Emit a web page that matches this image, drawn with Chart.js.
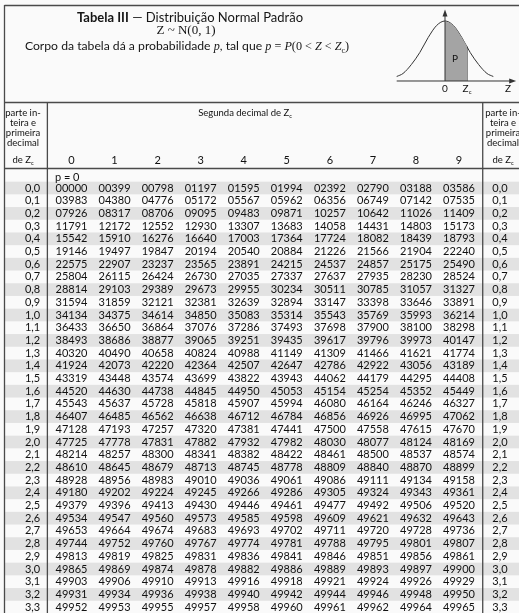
<!DOCTYPE html>
<html>
<head>
<meta charset="utf-8">
<script src="https://cdn.jsdelivr.net/npm/chart.js@4.4.1/dist/chart.umd.min.js"></script>
<style>
  html, body { margin: 0; padding: 0; background: #fafafa; }
  #wrap { position: relative; width: 519px; height: 613px; overflow: hidden; }
  #tableBox { position: absolute; left: 0; top: 0; width: 519px; height: 613px; }
  #curveBox { position: absolute; left: 390px; top: 0; width: 129px; height: 100px; }
  .t { position: absolute; white-space: nowrap; color: #151515; font-family: Lato, sans-serif; line-height: 14px; transform: translateX(-50%); }
  .serif { font-family: 'Liberation Serif', serif; }
  sub { font-size: 65%; line-height: 0; }
</style>
</head>
<body>
<div id="wrap">
  <div id="tableBox"><canvas id="tableChart"></canvas></div>
  <div id="curveBox"><canvas id="curveChart"></canvas></div>
  <div class="t" style="left:190px;top:10px;font-size:13px"><b>Tabela III</b> — Distribuição Normal Padrão</div>
  <div class="t serif" style="left:186px;top:23px;font-size:13px">Z ~ N(0, 1)</div>
  <div class="t" style="left:187px;top:39px;font-size:12.2px">Corpo da tabela dá a probabilidade <i class="serif">p</i>, tal que <i class="serif">p</i> <span class="serif">= <i>P</i>(0 &lt; <i>Z</i> &lt; <i>Z</i><sub>c</sub>)</span></div>
</div>
<script>
// second decimal of Z (columns) and Z up to the first decimal (rows)
const colLabels = ['0', '1', '2', '3', '4', '5', '6', '7', '8', '9'];
const rowLabels = ['0,0', '0,1', '0,2', '0,3', '0,4', '0,5', '0,6', '0,7', '0,8', '0,9',
  '1,0', '1,1', '1,2', '1,3', '1,4', '1,5', '1,6', '1,7', '1,8', '1,9',
  '2,0', '2,1', '2,2', '2,3', '2,4', '2,5', '2,6', '2,7', '2,8', '2,9',
  '3,0', '3,1', '3,2', '3,3'];

// P(0 < Z < Zc) x 100000, grouped by integer part of Z
const probs0 = [
  [0, 399, 798, 1197, 1595, 1994, 2392, 2790, 3188, 3586],
  [3983, 4380, 4776, 5172, 5567, 5962, 6356, 6749, 7142, 7535],
  [7926, 8317, 8706, 9095, 9483, 9871, 10257, 10642, 11026, 11409],
  [11791, 12172, 12552, 12930, 13307, 13683, 14058, 14431, 14803, 15173],
  [15542, 15910, 16276, 16640, 17003, 17364, 17724, 18082, 18439, 18793],
  [19146, 19497, 19847, 20194, 20540, 20884, 21226, 21566, 21904, 22240],
  [22575, 22907, 23237, 23565, 23891, 24215, 24537, 24857, 25175, 25490],
  [25804, 26115, 26424, 26730, 27035, 27337, 27637, 27935, 28230, 28524],
  [28814, 29103, 29389, 29673, 29955, 30234, 30511, 30785, 31057, 31327],
  [31594, 31859, 32121, 32381, 32639, 32894, 33147, 33398, 33646, 33891]
];
const probs1 = [
  [34134, 34375, 34614, 34850, 35083, 35314, 35543, 35769, 35993, 36214],
  [36433, 36650, 36864, 37076, 37286, 37493, 37698, 37900, 38100, 38298],
  [38493, 38686, 38877, 39065, 39251, 39435, 39617, 39796, 39973, 40147],
  [40320, 40490, 40658, 40824, 40988, 41149, 41309, 41466, 41621, 41774],
  [41924, 42073, 42220, 42364, 42507, 42647, 42786, 42922, 43056, 43189],
  [43319, 43448, 43574, 43699, 43822, 43943, 44062, 44179, 44295, 44408],
  [44520, 44630, 44738, 44845, 44950, 45053, 45154, 45254, 45352, 45449],
  [45543, 45637, 45728, 45818, 45907, 45994, 46080, 46164, 46246, 46327],
  [46407, 46485, 46562, 46638, 46712, 46784, 46856, 46926, 46995, 47062],
  [47128, 47193, 47257, 47320, 47381, 47441, 47500, 47558, 47615, 47670]
];
const probs2 = [
  [47725, 47778, 47831, 47882, 47932, 47982, 48030, 48077, 48124, 48169],
  [48214, 48257, 48300, 48341, 48382, 48422, 48461, 48500, 48537, 48574],
  [48610, 48645, 48679, 48713, 48745, 48778, 48809, 48840, 48870, 48899],
  [48928, 48956, 48983, 49010, 49036, 49061, 49086, 49111, 49134, 49158],
  [49180, 49202, 49224, 49245, 49266, 49286, 49305, 49324, 49343, 49361],
  [49379, 49396, 49413, 49430, 49446, 49461, 49477, 49492, 49506, 49520],
  [49534, 49547, 49560, 49573, 49585, 49598, 49609, 49621, 49632, 49643],
  [49653, 49664, 49674, 49683, 49693, 49702, 49711, 49720, 49728, 49736],
  [49744, 49752, 49760, 49767, 49774, 49781, 49788, 49795, 49801, 49807],
  [49813, 49819, 49825, 49831, 49836, 49841, 49846, 49851, 49856, 49861]
];
const probs3 = [
  [49865, 49869, 49874, 49878, 49882, 49886, 49889, 49893, 49897, 49900],
  [49903, 49906, 49910, 49913, 49916, 49918, 49921, 49924, 49926, 49929],
  [49931, 49934, 49936, 49938, 49940, 49942, 49944, 49946, 49948, 49950],
  [49952, 49953, 49955, 49957, 49958, 49960, 49961, 49962, 49964, 49965]
];

// little density sketch in the corner
const curveZ = [-2.3, -2.0, -1.6, -1.2, -0.8, -0.4, 0, 0.4, 0.8, 1.2, 1.6, 2.0, 2.3];
const curveP = [0.03, 0.05, 0.11, 0.19, 0.29, 0.37, 0.40, 0.37, 0.29, 0.19, 0.11, 0.05, 0.03];
const zc = 1.05;
const shadeZ = [0, 0.4, 0.8, 1.05];
const shadeP = [0.40, 0.37, 0.29, 0.23];

const zRows = [...probs0, ...probs1, ...probs2, ...probs3];
const cellPoints = [];
zRows.forEach((vals, r) => vals.forEach((v, c) => cellPoints.push({ x: c, y: r, v: v })));

const ink = '#111';
const lineCol = '#4a4a4a';
const fontFam = 'Lato, sans-serif';

function zWithSub(ctx, pre, x, y, size) {
  // "pre Z" + small subscript c, centred on x
  ctx.font = size + 'px ' + fontFam;
  const w1 = ctx.measureText(pre + 'Z').width;
  ctx.font = (size * 0.6) + 'px ' + fontFam;
  const w2 = ctx.measureText('c').width;
  const x0 = x - (w1 + w2) / 2;
  ctx.textAlign = 'left';
  ctx.font = size + 'px ' + fontFam;
  ctx.fillText(pre + 'Z', x0, y);
  ctx.font = (size * 0.6) + 'px ' + fontFam;
  ctx.fillText('c', x0 + w1, y + size * 0.3);
  ctx.textAlign = 'center';
}

const tablePlugin = {
  id: 'tablePlugin',
  beforeDatasetsDraw(chart) {
    const ctx = chart.ctx;
    const xs = chart.scales.x, ys = chart.scales.y;
    ctx.save();
    // alternate row shading
    ctx.fillStyle = '#e2e2e2';
    rowLabels.forEach((lab, r) => {
      if (r % 2 !== 0) return;
      const top = ys.getPixelForValue(r - 0.5);
      const bot = ys.getPixelForValue(r + 0.5);
      ctx.fillRect(5, top, 519, bot - top);
    });
    // frame and rules
    ctx.strokeStyle = lineCol;
    ctx.lineWidth = 1.3;
    const seg = (x1, y1, x2, y2) => { ctx.beginPath(); ctx.moveTo(x1, y1); ctx.lineTo(x2, y2); ctx.stroke(); };
    seg(4.5, 5.5, 519, 5.5);
    seg(4.5, 5, 4.5, 613);
    seg(4.5, 102.5, 519, 102.5);
    seg(4.5, 168.5, 519, 168.5);
    const leftRule = xs.getPixelForValue(-0.56);
    const rightRule = xs.getPixelForValue(9.55);
    seg(leftRule, 102.5, leftRule, 613);
    seg(rightRule, 102.5, rightRule, 613);
    ctx.restore();
  },
  afterDatasetsDraw(chart) {
    const ctx = chart.ctx;
    const xs = chart.scales.x, ys = chart.scales.y;
    const meta = chart.getDatasetMeta(0);
    ctx.save();
    ctx.fillStyle = ink;
    ctx.textBaseline = 'middle';
    ctx.textAlign = 'center';
    // body of the table
    ctx.font = '11px ' + fontFam;
    meta.data.forEach((pt, i) => {
      const v = cellPoints[i].v;
      ctx.fillText(String(v).padStart(5, '0'), pt.x, pt.y);
    });
    // row labels on both sides
    const leftX = xs.getPixelForValue(-0.905);
    const rightX = xs.getPixelForValue(9.95);
    rowLabels.forEach((lab, r) => {
      const y = ys.getPixelForValue(r);
      ctx.fillText(lab, leftX, y);
      ctx.fillText(lab, rightX, y);
    });
    // column headers
    const headY = ys.getPixelForValue(-2.2);
    colLabels.forEach((lab, c) => ctx.fillText(lab, xs.getPixelForValue(c), headY));
    ctx.fillText('p = 0', xs.getPixelForValue(-0.1), ys.getPixelForValue(-0.8));
    // side headers
    const sideLines = ['parte in-', 'teira e', 'primeira', 'decimal'];
    [23, 503].forEach(cx => {
      ctx.font = '9.5px ' + fontFam;
      sideLines.forEach((s, k) => ctx.fillText(s, cx, 113 + k * 10));
      zWithSub(ctx, 'de ', cx, headY, 9.5);
    });
    zWithSub(ctx, 'Segunda decimal de ', 245, 113, 9.5);
    ctx.restore();
  }
};

new Chart(document.getElementById('tableChart'), {
  type: 'scatter',
  data: { datasets: [{ data: cellPoints, pointRadius: 0, pointHoverRadius: 0 }] },
  options: {
    responsive: true,
    maintainAspectRatio: false,
    animation: false,
    events: [],
    layout: { padding: 0 },
    plugins: { legend: { display: false }, tooltip: { enabled: false } },
    scales: {
      x: { type: 'linear', display: false, min: -71.5 / 43.06, max: (519 - 71.5) / 43.06 },
      y: { type: 'linear', display: false, reverse: true, min: -188 / 12.7, max: (613 - 188) / 12.7 }
    }
  },
  plugins: [tablePlugin]
});

const curvePlugin = {
  id: 'curvePlugin',
  afterDatasetsDraw(chart) {
    const ctx = chart.ctx;
    const xs = chart.scales.x, ys = chart.scales.y;
    const y0 = ys.getPixelForValue(0);
    const x0 = xs.getPixelForValue(0);
    ctx.save();
    ctx.strokeStyle = '#333';
    ctx.fillStyle = '#333';
    ctx.lineWidth = 1;
    // horizontal axis with arrow
    const xEnd = xs.getPixelForValue(3.2);
    ctx.beginPath(); ctx.moveTo(xs.getPixelForValue(-2.3), y0); ctx.lineTo(xEnd, y0); ctx.stroke();
    ctx.beginPath(); ctx.moveTo(xEnd + 4, y0); ctx.lineTo(xEnd - 3, y0 - 2.5); ctx.lineTo(xEnd - 3, y0 + 2.5); ctx.closePath(); ctx.fill();
    // vertical axis with arrow
    const yTop = ys.getPixelForValue(0.45);
    ctx.beginPath(); ctx.moveTo(x0, y0); ctx.lineTo(x0, yTop); ctx.stroke();
    ctx.beginPath(); ctx.moveTo(x0, yTop - 4); ctx.lineTo(x0 - 2.5, yTop + 3); ctx.lineTo(x0 + 2.5, yTop + 3); ctx.closePath(); ctx.fill();
    // labels
    ctx.fillStyle = ink;
    ctx.textBaseline = 'middle';
    ctx.textAlign = 'center';
    ctx.font = '10px ' + fontFam;
    ctx.fillText('P', xs.getPixelForValue(0.48), ys.getPixelForValue(0.15));
    ctx.fillText('0', x0, y0 + 8);
    ctx.fillText('Z', xs.getPixelForValue(3.0), y0 + 8);
    zWithSub(ctx, '', xs.getPixelForValue(zc), y0 + 8, 10);
    ctx.restore();
  }
};

new Chart(document.getElementById('curveChart'), {
  type: 'scatter',
  data: {
    datasets: [
      {
        data: shadeZ.map((z, i) => ({ x: z, y: shadeP[i] })),
        showLine: true, fill: 'origin', backgroundColor: '#a4a4a4',
        borderWidth: 0, pointRadius: 0, cubicInterpolationMode: 'monotone'
      },
      {
        data: curveZ.map((z, i) => ({ x: z, y: curveP[i] })),
        showLine: true, borderColor: '#333', borderWidth: 1, pointRadius: 0,
        cubicInterpolationMode: 'monotone'
      },
      {
        data: [{ x: zc, y: 0 }, { x: zc, y: 0.23 }],
        showLine: true, borderColor: '#333', borderWidth: 1, pointRadius: 0
      }
    ]
  },
  options: {
    responsive: true,
    maintainAspectRatio: false,
    animation: false,
    events: [],
    layout: { padding: 0 },
    plugins: { legend: { display: false }, tooltip: { enabled: false } },
    scales: {
      x: { type: 'linear', display: false, min: -55 / 21, max: -55 / 21 + 129 / 21 },
      y: { type: 'linear', display: false, min: -0.1267, max: 0.54 }
    }
  },
  plugins: [curvePlugin]
});
</script>
</body>
</html>
